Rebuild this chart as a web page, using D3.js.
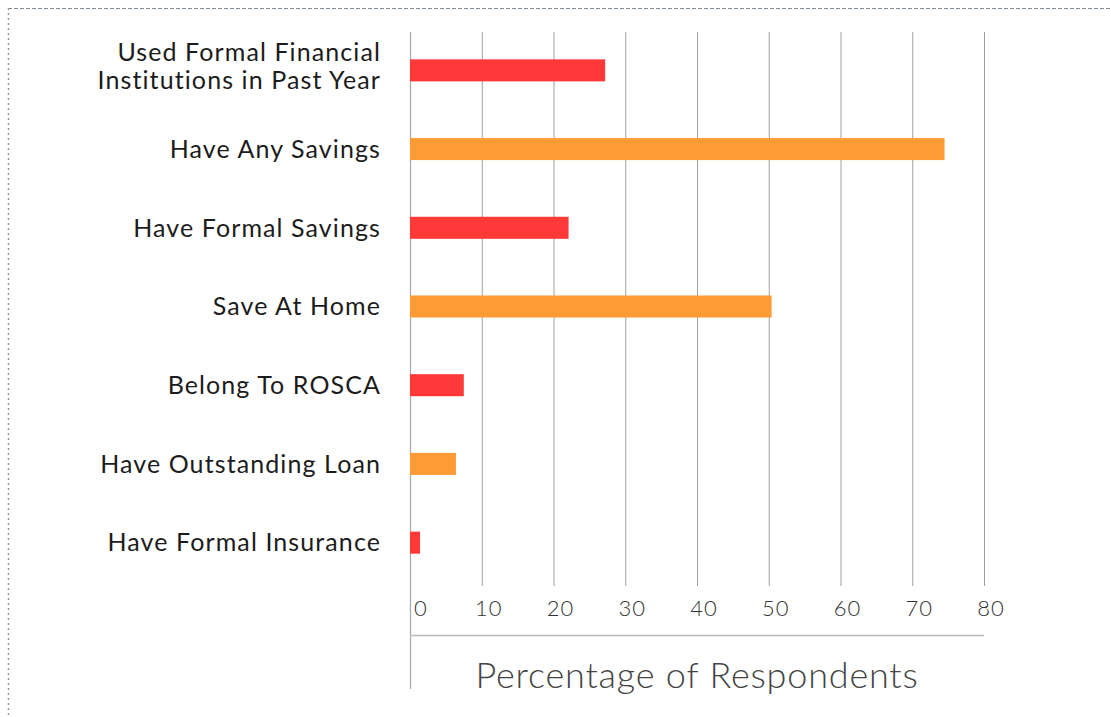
<!DOCTYPE html>
<html>
<head>
<meta charset="utf-8">
<script src="https://cdn.jsdelivr.net/npm/d3@7"></script>
<style>
  body { margin: 0; background: #fff; }
  svg { display: block; }
</style>
</head>
<body>
<div id="chart"></div>
<script>
// data
const categories = [
  ["Used Formal Financial", "Institutions in Past Year"],
  ["Have Any Savings"],
  ["Have Formal Savings"],
  ["Save At Home"],
  ["Belong To ROSCA"],
  ["Have Outstanding Loan"],
  ["Have Formal Insurance"]
];
const values = [27.2, 74.5, 22.1, 50.4, 7.5, 6.4, 1.4];
const barColors = ["#ff3838", "#ff9b35"];
const ticks = [0, 10, 20, 30, 40, 50, 60, 70, 80];
const axisTitle = "Percentage of Respondents";

const width = 1111, height = 717;
const svg = d3.select("#chart").append("svg")
  .attr("width", width)
  .attr("height", height);

// dashed frame, top and left only
svg.append("line")
  .attr("x1", 8).attr("x2", width).attr("y1", 8.5).attr("y2", 8.5)
  .attr("stroke", "#7d8c96").attr("stroke-width", 1).attr("stroke-dasharray", "4,2");
svg.append("line")
  .attr("x1", 8.5).attr("x2", 8.5).attr("y1", 8).attr("y2", height)
  .attr("stroke", "#999").attr("stroke-width", 1.5).attr("stroke-dasharray", "2,3");

const x = d3.scaleLinear().domain([0, 80]).range([410, 984]);
const y = d3.scaleBand()
  .domain(d3.range(categories.length))
  .range([31, 582])
  .paddingInner(0.72)
  .paddingOuter(0.36);

// vertical grid lines
svg.append("g")
  .selectAll("line")
  .data(ticks.slice(1))
  .enter()
  .append("line")
  .attr("x1", d => x(d) + 0.5).attr("x2", d => x(d) + 0.5)
  .attr("y1", 32).attr("y2", 586)
  .attr("stroke", "#a0a0a0").attr("stroke-width", 1);

// left axis line
svg.append("line")
  .attr("x1", x(0) + 0.5).attr("x2", x(0) + 0.5)
  .attr("y1", 32).attr("y2", 689)
  .attr("stroke", "#a8a8a8").attr("stroke-width", 1.2);

// bottom axis line
svg.append("line")
  .attr("x1", x(0)).attr("x2", x(80))
  .attr("y1", 635.5).attr("y2", 635.5)
  .attr("stroke", "#bbb").attr("stroke-width", 1.5);

// bars
svg.append("g")
  .selectAll("rect")
  .data(values)
  .enter()
  .append("rect")
  .attr("x", x(0))
  .attr("y", (d, i) => y(i))
  .attr("width", d => x(d) - x(0))
  .attr("height", y.bandwidth())
  .attr("fill", (d, i) => barColors[i % 2]);

// category labels
const labels = svg.append("g")
  .selectAll("text")
  .data(categories)
  .enter()
  .append("text")
  .attr("text-anchor", "end")
  .style("font-family", "Lato, 'Open Sans', sans-serif")
  .style("font-size", "25px")
  .style("letter-spacing", "1.1px")
  .style("fill", "#1c1c1c");

labels.each(function (lines, i) {
  const cy = y(i) + y.bandwidth() / 2 - (lines.length > 1 ? 4 : 0);
  const t = d3.select(this);
  lines.forEach((line, k) => {
    t.append("tspan")
      .attr("x", 381)
      .attr("y", cy + (k - (lines.length - 1) / 2) * 28)
      .attr("dy", "0.35em")
      .text(line);
  });
});

// tick labels
svg.append("g")
  .selectAll("text")
  .data(ticks)
  .enter()
  .append("text")
  .attr("x", d => x(d) + (d === 0 ? 11 : 7))
  .attr("y", 608)
  .attr("dy", "0.35em")
  .attr("text-anchor", "middle")
  .style("font-family", "Lato, sans-serif")
  .style("font-weight", 300)
  .style("font-size", "22px")
  .style("letter-spacing", "1px")
  .style("fill", "#333")
  .text(d => d);

// axis title
svg.append("text")
  .attr("x", (x(0) + x(80)) / 2)
  .attr("y", 675)
  .attr("dy", "0.35em")
  .attr("text-anchor", "middle")
  .style("font-family", "Lato, sans-serif")
  .style("font-weight", 300)
  .style("font-size", "36px")
  .style("letter-spacing", "0.8px")
  .style("fill", "#444")
  .text(axisTitle);
</script>
</body>
</html>
